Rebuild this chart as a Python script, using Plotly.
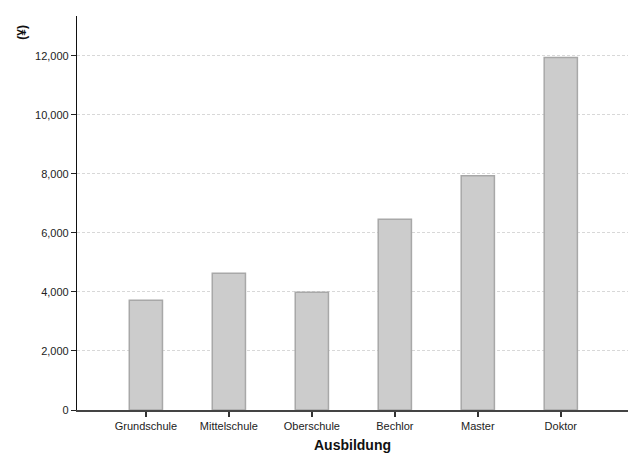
import plotly.graph_objects as go

categories = ["Grundschule", "Mittelschule", "Oberschule", "Bechlor", "Master", "Doktor"]
values = [3720, 4630, 3990, 6460, 7940, 11940]
y_ticks = [0, 2000, 4000, 6000, 8000, 10000, 12000]
y_tick_labels = ["0", "2,000", "4,000", "6,000", "8,000", "10,000", "12,000"]
x_title = "Ausbildung"
y_title = "(¥)"

fig = go.Figure(go.Bar(
    x=list(range(len(categories))),
    y=values,
    width=0.4,
    marker=dict(color="#cccccc", line=dict(color="#a8a8a8", width=1.5)),
))

font_family = "Liberation Sans, Arial, sans-serif"
# page body has an 8px margin, so the figure is drawn 8px smaller
fig.update_layout(
    width=630, height=449,
    margin=dict(l=69, r=10, t=8, b=47),
    paper_bgcolor="white", plot_bgcolor="white",
    showlegend=False,
    font=dict(family=font_family, size=11, color="#222"),
    xaxis=dict(
        range=[-0.83, 5.81],
        automargin=False,
        tickmode="array", tickvals=list(range(len(categories))), ticktext=categories,
        ticks="outside", ticklen=5, tickcolor="#333", tickwidth=1.5,
        showline=True, linecolor="#444", linewidth=1.5,
        showgrid=False, zeroline=False,
        title=dict(text=f"<b>{x_title}</b>", font=dict(size=14, color="#111"), standoff=9),
    ),
    yaxis=dict(
        range=[0, 13350],
        automargin=False,
        tickmode="array", tickvals=y_ticks, ticktext=y_tick_labels,
        ticks="outside", ticklen=5, tickcolor="#222", tickwidth=1,
        showline=True, linecolor="#111", linewidth=1.2,
        showgrid=True, gridcolor="#d8d8d8", griddash="3px,2px", gridwidth=1,
        zeroline=False,
    ),
    annotations=[dict(
        text=f"<b>{y_title}</b>", textangle=-90,
        xref="paper", yref="paper", x=-0.1, y=0.96,
        xanchor="center", yanchor="middle", showarrow=False,
        font=dict(size=12, color="#111", family=font_family),
    )],
)

fig.write_html("out.html")
